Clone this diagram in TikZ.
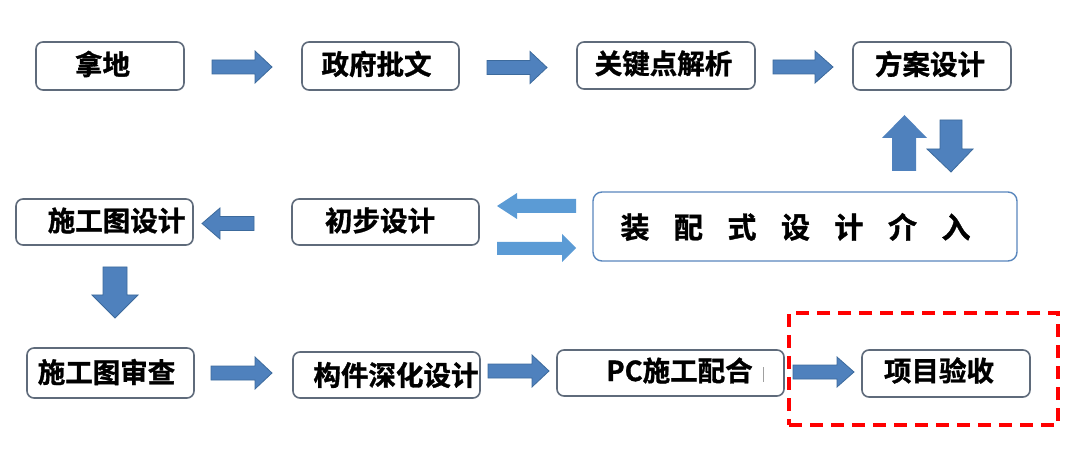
\documentclass[tikz,border=0pt]{standalone}
\usepackage{fontspec}
\newfontfamily\cjkb{Noto Sans CJK SC Bold}[FakeBold=1.2]
\definecolor{boxedge}{HTML}{5F6B7B}
\definecolor{bigedge}{HTML}{5A87BD}
\definecolor{arrowblue}{HTML}{4F81BD}
\definecolor{arrowedge}{HTML}{3C6A9C}
\definecolor{pairblue}{HTML}{5B9BD5}
\definecolor{dashred}{HTML}{FF0000}
\definecolor{barcol}{HTML}{A0A0A0}
\begin{document}
\begin{tikzpicture}[x=1pt,y=-1pt,
  box/.style={draw=boxedge, line width=1.6pt, rounded corners=7pt, fill=white, inner sep=0pt},
  bigbox/.style={draw=bigedge, line width=1.4pt, rounded corners=9pt, fill=white, inner sep=0pt},
  lbl/.style={font=\cjkb\fontsize{27.5pt}{30pt}\selectfont, inner sep=0pt, text=black},
  biglbl/.style={font=\cjkb\fontsize{29pt}{32pt}\selectfont, inner sep=0pt, text=black},
  barrow/.style={fill=arrowblue, draw=arrowedge, line width=0.8pt, line join=miter},
  parrow/.style={fill=pairblue},
  reddash/.style={draw=dashred, line width=3.6pt, dash pattern=on 13pt off 8pt, inner sep=0pt}]
\useasboundingbox (0,0) rectangle (1080,465);
\fill[white] (0,0) rectangle (1080,465);

% boxes
\node[box, minimum width=148pt, minimum height=48pt] (A) at (110,66) {};
\node[box, minimum width=157pt, minimum height=48pt] (B) at (380.5,66) {};
\node[box, minimum width=178pt, minimum height=47pt] (C) at (666,65.5) {};
\node[box, minimum width=158pt, minimum height=48pt] (D) at (932,66) {};
\node[bigbox, minimum width=424pt, minimum height=69pt] (E) at (805,226.5) {};
\node[box, minimum width=187pt, minimum height=46pt] (F) at (385.5,222) {};
\node[box, minimum width=177pt, minimum height=46pt] (G) at (104.5,222) {};
\node[box, minimum width=167pt, minimum height=50pt] (H) at (110.5,373) {};
\node[box, minimum width=187pt, minimum height=46pt] (I) at (386.5,375) {};
\node[box, minimum width=227pt, minimum height=46pt] (J) at (670.5,373) {};
\node[box, minimum width=168pt, minimum height=47pt] (K) at (946,373.5) {};

% labels
\node[lbl] (tA) at (102.5,64) {拿地};
\node[lbl] (tB) at (376.5,64) {政府批文};
\node[lbl] (tC) at (663.5,63.5) {关键点解析};
\node[lbl] (tD) at (930,64) {方案设计};
\node[biglbl] (tE) at (795.5,227) {装\hspace{24.5pt}配\hspace{24.5pt}式\hspace{24.5pt}设\hspace{24.5pt}计\hspace{24.5pt}介\hspace{24.5pt}入};
\node[lbl] (tF) at (380,220.5) {初步设计};
\node[lbl] (tG) at (116.5,220.5) {施工图设计};
\node[lbl] (tH) at (106.5,372) {施工图审查};
\node[lbl] (tI) at (396,375) {构件深化设计};
\node[lbl] (tJ) at (679.5,370.5) {PC施工配合};
\node[lbl] (tK) at (939,370.5) {项目验收};
\coordinate (barTop) at (763,367);
\coordinate (barBot) at (763,382);
\draw[barcol, line width=1pt] (barTop) -- (barBot);

% red dashed frame
\node[reddash, minimum width=269pt, minimum height=112pt] (R) at (923.5,369) {};

% right-pointing block arrows
\draw[barrow] (212,60) -- (255,60) -- (255,51) -- (272,67) -- (255,83) -- (255,74) -- (212,74) -- cycle;
\draw[barrow] (487,60.5) -- (530,60.5) -- (530,51.5) -- (547,67.5) -- (530,83.5) -- (530,74.5) -- (487,74.5) -- cycle;
\draw[barrow] (773,60) -- (815,60) -- (815,51) -- (833,67) -- (815,83) -- (815,74) -- (773,74) -- cycle;
\draw[barrow] (211,366) -- (255,366) -- (255,357) -- (272,373) -- (255,389) -- (255,380) -- (211,380) -- cycle;
\draw[barrow] (488,364) -- (532,364) -- (532,355) -- (549,371) -- (532,387) -- (532,378) -- (488,378) -- cycle;
\draw[barrow] (793,365) -- (837,365) -- (837,357) -- (854,372) -- (837,387) -- (837,379) -- (793,379) -- cycle;
% left-pointing arrow into 施工图设计
\draw[barrow] (254,216.5) -- (220,216.5) -- (220,208) -- (202,223.5) -- (220,239) -- (220,230.5) -- (254,230.5) -- cycle;
% down arrow under 施工图设计
\draw[barrow] (103,267) -- (127,267) -- (127,295) -- (138,295) -- (115,318) -- (92,295) -- (103,295) -- cycle;
% up / down pair next to 方案设计
\fill[arrowblue] (892,171) -- (916,171) -- (916,138) -- (927,138) -- (904.5,115) -- (882,138) -- (892,138) -- cycle;
\draw[barrow] (940,120) -- (962,120) -- (962,149) -- (973,149) -- (951,172) -- (927,149) -- (940,149) -- cycle;
% pair arrows next to the big box
\fill[parrow] (576,199) -- (517,199) -- (517,193) -- (497,206) -- (517,219) -- (517,213) -- (576,213) -- cycle;
\fill[parrow] (497,242) -- (562,242) -- (562,234) -- (576,248) -- (562,262) -- (562,255) -- (497,255) -- cycle;
\end{tikzpicture}
\end{document}
